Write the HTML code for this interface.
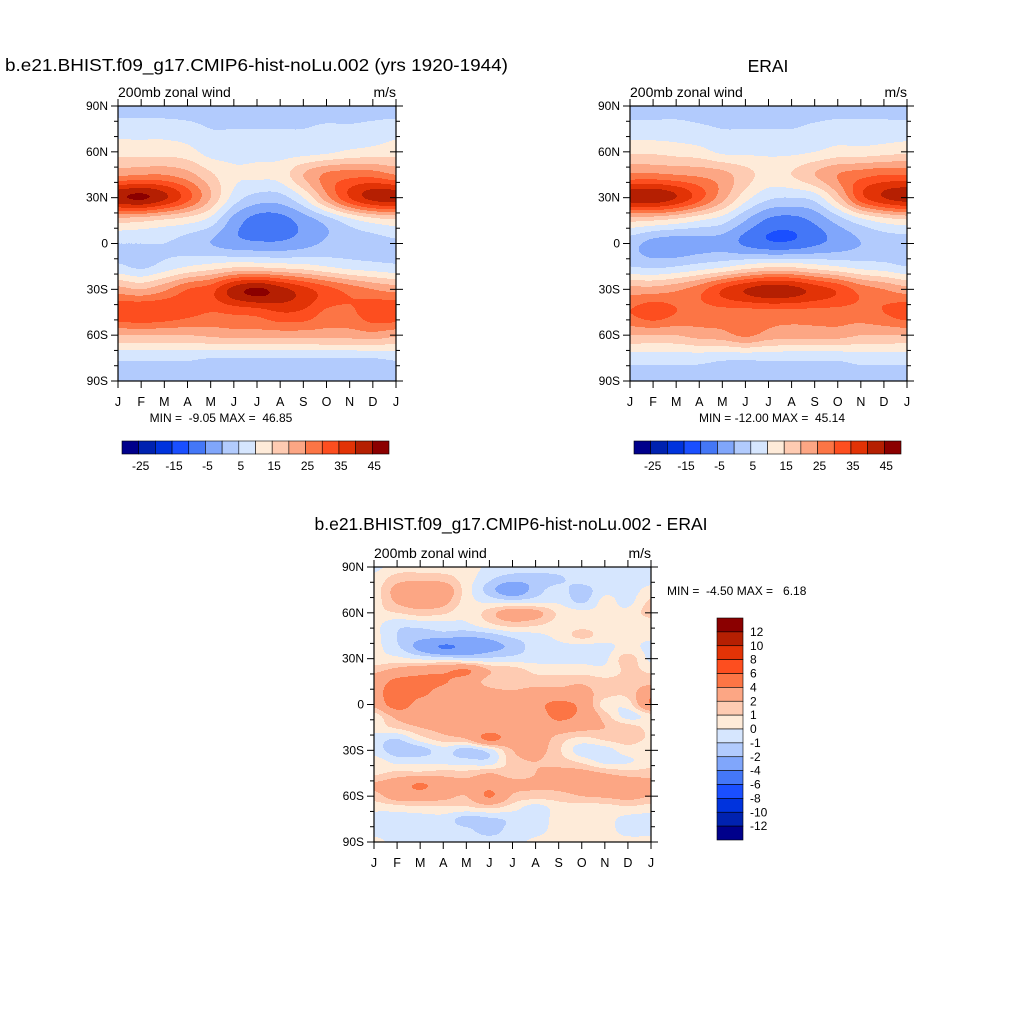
<!DOCTYPE html>
<html><head><meta charset="utf-8">
<style>
html,body{margin:0;padding:0;background:#fff;}
svg{display:block;font-family:"Liberation Sans",Arial,sans-serif;}
</style></head>
<body>
<svg id="root" xmlns="http://www.w3.org/2000/svg" width="1024" height="1024" viewBox="0 0 1024 1024">
<rect width="1024" height="1024" fill="#fff"/>
<text x="5" y="71" font-size="17.5" textLength="503" lengthAdjust="spacingAndGlyphs">b.e21.BHIST.f09_g17.CMIP6-hist-noLu.002 (yrs 1920-1944)</text>
<text x="768" y="72" font-size="17.5" text-anchor="middle">ERAI</text>
<text x="511" y="530" font-size="17.5" text-anchor="middle">b.e21.BHIST.f09_g17.CMIP6-hist-noLu.002 - ERAI</text>
<g id="p1"></g>
<g id="p2"></g>
<g id="p3"></g>
<text x="221" y="422" font-size="12" text-anchor="middle" style="white-space:pre">MIN =  -9.05 MAX =  46.85</text>
<text x="772" y="422" font-size="12" text-anchor="middle" style="white-space:pre">MIN = -12.00 MAX =  45.14</text>
<text x="667" y="595" font-size="12" style="white-space:pre">MIN =  -4.50 MAX =   6.18</text>
<g id="cb1"></g>
<g id="cb2"></g>
<g id="cb3"></g>
</svg>
<script>
const NS="http://www.w3.org/2000/svg";
const months=["J","F","M","A","M","J","J","A","S","O","N","D","J"];
const latTicks=["90N","60N","30N","0","30S","60S","90S"];
const colors=["#00008b","#0022b0","#0033dd","#1a4fff","#4477f7","#80a6fb","#b2cbfd","#d6e6fe","#feebd9","#fecbb2","#fca684","#fc7545","#fd4e1f","#e23306","#b51f02","#8b0000"];
const levelsFull=[-25,-20,-15,-10,-5,0,5,10,15,20,25,30,35,40,45];
const levelsDiff=[-12,-10,-8,-6,-4,-2,-1,0,1,2,4,6,8,10,12];
const cbLabelsFull=["-25","-15","-5","5","15","25","35","45"];
const cbLabelsDiff=["12","10","8","6","4","2","1","0","-1","-2","-4","-6","-8","-10","-12"];
const latsCoarse=[90,75,60,45,30,15,0,-15,-30,-45,-60,-75,-90];
const latsFine=[90,82.5,75,67.5,60,52.5,45,37.5,30,22.5,15,7.5,0,-7.5,-15,-22.5,-30,-37.5,-45,-52.5,-60,-67.5,-75,-82.5,-90];
const modelU=[
[2,2,2,2,2,2,2,2,2,2,2,2,2],
[8,8,8,7,5,5,5,5,5,6,6,7,8],
[13,13,13,12,8,8,8,8,8,9,11,12,13],
[24,25,25,22,16,11,11,12,20,26,28,28,25],
[44,46,41,32,20,8,3,3,10,23,35,42,43],
[17,16,14,12,8,-2,-7,-7,-3,2,8,12,14],
[5,5,5,3,0,-3,-4,-4,-2,1,3,3,4],
[6,4,7,10,12,14,14,13,12,10,8,7,6],
[22,20,24,30,33,42,46,42,37,32,28,25,23],
[34,35,34,32,30,31,32,35,34,29,29,33,34],
[20,20,20,20,21,22,22,22,22,22,22,23,21],
[6,6,6,6,5,5,5,5,5,5,5,5,6],
[2,2,2,2,2,2,2,2,2,2,2,2,2]];
const eraiU=[
[3,3,3,3,3,3,3,3,3,3,3,3,3],
[7,7,7,6,5,5,5,5,6,7,7,7,7],
[14,14,13,12,9,9,9,9,10,12,12,13,14],
[26,26,25,24,22,17,13,15,20,25,28,30,30],
[43,44,40,32,22,12,6,5,7,18,33,40,43],
[16,15,13,10,7,0,-6,-7,-4,2,8,12,14],
[2,-2,-3,-2,-2,-6,-9,-9,-6,-3,0,2,2],
[5,4,5,7,9,12,14,14,12,10,8,7,5],
[22,22,24,28,35,40,43,42,38,34,28,25,22],
[30,33,30,28,28,28,28,28,28,28,28,30,33],
[20,20,20,22,23,26,23,22,22,22,20,20,20],
[7,7,7,7,6,6,6,6,6,6,7,7,7],
[3,3,3,3,3,3,3,3,3,3,3,3,3]];
const diffU=[
[-0.3,0.5,0.5,0.5,0.6,-0.3,-0.5,-0.5,-0.3,-0.3,-0.3,-0.3,-0.3],
[0.3,1.5,1.7,1.5,0.5,-0.8,-1.5,-1.5,-1.2,-0.4,-0.3,-0.3,-0.3],
[0.5,2.5,3,3,0.5,-1.5,-3,-1.5,-0.6,-1.5,-0.3,-0.4,0.3],
[0.5,2.2,2.8,2.5,0.5,-0.3,-0.6,-0.4,-0.2,-1.2,0.3,-0.3,1.2],
[0.7,1,1.5,1.2,0.3,1.5,3,2.5,0.8,0.3,0.3,0.3,1.5],
[0.3,-0.7,-0.6,-0.4,-0.2,0.8,1.5,1.2,0.6,0.6,0.5,0.4,0.3],
[0.3,-1,-1.5,-1.5,-1.8,-1.5,-0.7,-0.3,0.3,1.3,0.5,0.3,0.2],
[0.3,-0.8,-2.5,-4.2,-3.5,-2.5,-1.7,-0.5,-0.3,-0.4,-0.3,0.3,-0.3],
[0.3,0.3,-0.2,-0.4,-0.8,-0.8,-0.6,-0.4,-0.3,-0.3,-0.2,1.5,-0.3],
[1.6,2.5,3.2,3.5,4.2,2,1.5,0.7,0.5,0.5,0.3,1.2,0.8],
[3,4.5,4.5,4.2,3,1.6,1.5,1.5,1.6,1.8,1.3,1.3,1.5],
[3.5,4.8,4.5,3.2,3,2.5,2.2,2.6,2.5,2.5,1.5,1.3,3.5],
[2.5,5,3.2,3,3,3,3,3.5,4.5,3.5,0.5,0.5,4],
[0.5,2.5,3,3,3,3,3,3,4.5,3.5,1.5,-0.4,0.5],
[0.5,1.2,2,2.5,3,3,3,3,3,2.5,2,1.5,0.7],
[-0.5,-1,0.5,1.5,2,4.5,3,3,1.5,0.7,1.2,1.5,0.8],
[-0.5,-1.6,-1.5,-0.5,-1.5,-0.5,2,2.5,1.2,-0.6,-0.5,0.5,0],
[0.6,-0.3,-0.2,-0.3,-0.5,-0.6,1.5,2,1.5,0.8,-0.3,-0.1,0.5],
[0.8,1.3,1.3,1.5,1.4,2,1.5,2,2.5,2.5,2,1.5,1.5],
[2.2,3,4.2,3,2.5,3.3,2.5,2.2,2.5,3,3,3,2.5],
[1.5,2.8,3,2.5,2,4.2,1.8,1.5,1.5,2,2.2,2.5,2],
[0.3,0.5,0.8,0.8,0.8,1.2,0.5,-0.5,0.5,0.5,0.5,0.8,0.5],
[-0.4,-0.5,-0.5,-0.4,-1.5,-1.2,-0.8,-0.5,0.3,0.3,0.3,-0.3,-0.4],
[-0.4,-0.4,-0.4,-0.5,-0.7,-1.5,-0.5,-0.3,0.3,0.3,0.3,-0.3,-0.3],
[0.3,-0.3,-0.3,-0.3,-0.3,-0.3,-0.3,0.2,0.3,0.3,0.3,0.3,0.3]];

function el(tag,attrs,parent){const e=document.createElementNS(NS,tag);for(const k in attrs)e.setAttribute(k,attrs[k]);parent.appendChild(e);return e;}
function cr(p0,p1,p2,p3,t){return 0.5*((2*p1)+(-p0+p2)*t+(2*p0-5*p1+4*p2-p3)*t*t+(-p0+3*p1-3*p2+p3)*t*t*t);}
function sample(grid,lats,fx,lat){
  const nr=grid.length,nc=grid[0].length;
  let r=0;while(r<nr-2&&lats[r+1]>lat)r++;
  const ty=(lats[r]-lat)/(lats[r]-lats[r+1]);
  let c=Math.min(Math.floor(fx),nc-2);const tx=fx-c;
  const g=(i,j)=>grid[Math.max(0,Math.min(nr-1,i))][Math.max(0,Math.min(nc-1,j))];
  const rowv=i=>cr(g(i,c-1),g(i,c),g(i,c+1),g(i,c+2),tx);
  return cr(rowv(r-1),rowv(r),rowv(r+1),rowv(r+2),ty);
}
function levelIndex(v,levels){let k=0;while(k<levels.length&&v>=levels[k])k++;return k;}

function panel(gid,P,grid,lats,levels){
  const g=document.getElementById(gid);
  const xs=m=>P.x+m*P.w/12, ys=lat=>P.y+(90-lat)*P.h/180;
  const fill=el('g',{'shape-rendering':'crispEdges'},g);
  
  
  const step=1;
  for(let py=0;py<P.h;py+=step){
    const lat=90-(py+step/2)*180/P.h;
    let runStart=0,runCol=-1;
    for(let px=0;px<=P.w;px++){
      let ci=-1;
      if(px<P.w){const fx=(px+0.5)*12/P.w;ci=levelIndex(sample(grid,lats,fx,lat),levels);}
      if(ci!==runCol){
        if(runCol>=0){const r=el('rect',{x:P.x+runStart,y:P.y+py,width:px-runStart,height:step,fill:colors[runCol]},fill);
          
          }
        runStart=px;runCol=ci;
      }
    }
  }
  const fr=el('rect',{x:P.x,y:P.y,width:P.w,height:P.h,fill:'none',stroke:'#000','stroke-width':1.2},g);
  
  
  for(let m=0;m<=12;m++){
    el('line',{x1:xs(m),x2:xs(m),y1:P.y,y2:P.y-7,stroke:'#000'},g);
    el('line',{x1:xs(m),x2:xs(m),y1:P.y+P.h,y2:P.y+P.h+7,stroke:'#000'},g);
    const t=el('text',{x:xs(m),y:P.y+P.h+25,'font-size':12.5,'text-anchor':'middle'},g);t.textContent=months[m];
    
    
  }
  for(let lat=90;lat>=-90;lat-=10){
    const maj=lat%30===0,L=maj?7:4;
    el('line',{x1:P.x,x2:P.x-L,y1:ys(lat),y2:ys(lat),stroke:'#000'},g);
    el('line',{x1:P.x+P.w,x2:P.x+P.w+L,y1:ys(lat),y2:ys(lat),stroke:'#000'},g);
    if(maj){el('line',{x1:P.x+P.w,x2:P.x+P.w-6,y1:ys(lat),y2:ys(lat),stroke:'#000'},g);}
  }
  latTicks.forEach((s,i)=>{const t=el('text',{x:P.x-10,y:ys(90-30*i)+4,'font-size':12,'text-anchor':'end'},g);t.textContent=s;
    
    });
  const a=el('text',{x:P.x,y:P.y-9,'font-size':14},g);a.textContent='200mb zonal wind';
  
  
  const b=el('text',{x:P.x+P.w,y:P.y-9,'font-size':14,'text-anchor':'end'},g);b.textContent='m/s';
  
  
}
panel('p1',{x:118,y:106,w:278,h:275},modelU,latsCoarse,levelsFull);
panel('p2',{x:630,y:106,w:277,h:275},eraiU,latsCoarse,levelsFull);
panel('p3',{x:374,y:567,w:277,h:275},diffU,latsFine,levelsDiff);

function hbar(gid,x0,x1,y0,y1){
  const g=document.getElementById(gid),w=(x1-x0)/16;
  colors.forEach((c,i)=>{const r=el('rect',{x:x0+i*w,y:y0,width:w,height:y1-y0,fill:c,stroke:'#000','stroke-width':0.6},g);
    
    });
  cbLabelsFull.forEach((s,i)=>{const t=el('text',{x:x0+(1+2*i)*w+2,y:y1+16,'font-size':12,'text-anchor':'middle'},g);t.textContent=s;
    
    });
}
hbar('cb1',122,389,441,454);
hbar('cb2',634,901,441,454);
(function(){
  const g=document.getElementById('cb3'),x0=717,x1=743,y0=618,y1=840,h=(y1-y0)/16;
  colors.slice().reverse().forEach((c,i)=>{const r=el('rect',{x:x0,y:y0+i*h,width:x1-x0,height:h,fill:c,stroke:'#000','stroke-width':0.6},g);
    
    });
  cbLabelsDiff.forEach((s,i)=>{const t=el('text',{x:750,y:y0+(i+1)*h+4,'font-size':12},g);t.textContent=s;
    
    });
})();
</script>
</body></html>
